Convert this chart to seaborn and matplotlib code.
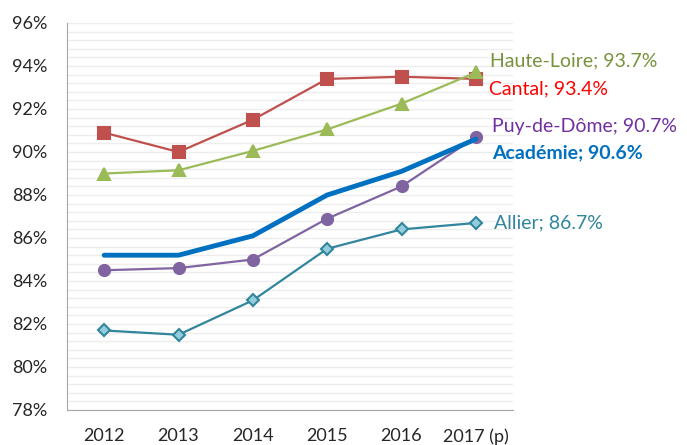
import numpy as np
import pandas as pd
import matplotlib
matplotlib.use('Agg')
import matplotlib.pyplot as plt
import seaborn as sns
from matplotlib.ticker import MultipleLocator, FuncFormatter

years = ['2012', '2013', '2014', '2015', '2016', '2017 (p)']
cantal = [90.9, 90.0, 91.5, 93.4, 93.5, 93.4]
haute_loire = [89.0, 89.15, 90.05, 91.05, 92.25, 93.7]
academie = [85.2, 85.2, 86.1, 88.0, 89.1, 90.6]
puy_de_dome = [84.5, 84.6, 85.0, 86.9, 88.4, 90.7]
allier = [81.7, 81.5, 83.1, 85.5, 86.4, 86.7]

sns.set_style('white')
plt.rcParams['font.family'] = ['Lato', 'DejaVu Sans']

fig = plt.figure(figsize=(6.87, 4.45), dpi=100)
ax = fig.add_axes([67/687, 35/445, (513-67)/687, (410-23)/445])

x = np.arange(len(years))

# (values, line colour, marker, marker face, marker edge, label colour, label, dx, dy)
series = [
    (cantal, '#C0504D', 's', '#C0504D', '#C0504D', '#FF0000', 'Cantal; 93.4%', 13, -10),
    (haute_loire, '#9BBB59', '^', '#9BBB59', '#9BBB59', '#77933C', 'Haute-Loire; 93.7%', 14, 12),
    (puy_de_dome, '#8064A2', 'o', '#8064A2', '#8064A2', '#7030A0', 'Puy-de-Dôme; 90.7%', 16, 10),
    (allier, '#31859C', 'D', '#93CDDD', '#31859C', '#31859C', 'Allier; 86.7%', 18, 0),
]

for vals, col, mk, mfc, mec, lcol, lab, dx, dy in series:
    sns.lineplot(x=x, y=vals, ax=ax, color=col, lw=1.6, marker=mk, markersize=8 if mk != 'D' else 6.5,
                 markerfacecolor=mfc, markeredgecolor=mec, markeredgewidth=1.5, zorder=3)
    ax.annotate(lab, xy=(x[-1], vals[-1]), xytext=(dx, dy), textcoords='offset pixels',
                color=lcol, fontsize=14, va='center', ha='left', annotation_clip=False)

sns.lineplot(x=x, y=academie, ax=ax, color='#0070C0', lw=3.5, zorder=4)
ax.annotate('Académie; 90.6%', xy=(x[-1], academie[-1]), xytext=(16, -14), textcoords='offset pixels',
            color='#0070C0', fontsize=14, fontweight='bold', va='center', ha='left', annotation_clip=False)

ax.set_xlim(-0.5, 5.5)
ax.set_ylim(78, 96)
ax.set_xticks(x)
ax.set_xticklabels(years)
ax.yaxis.set_major_locator(MultipleLocator(2))
ax.yaxis.set_major_formatter(FuncFormatter(lambda v, p: f'{v:.0f}%'))
ax.yaxis.set_minor_locator(MultipleLocator(0.4))
ax.grid(which='both', axis='y', color='#EDEDED', lw=1)
ax.set_axisbelow(True)
ax.tick_params(axis='both', which='both', length=0, labelsize=13, colors='#262626')
ax.tick_params(axis='y', pad=14)
ax.tick_params(axis='x', pad=13)

for s in ['top', 'right']:
    ax.spines[s].set_visible(False)
ax.spines['left'].set_color('#A6A6A6')
ax.spines['bottom'].set_color('#A6A6A6')

fig.savefig('out.png', dpi=100)
